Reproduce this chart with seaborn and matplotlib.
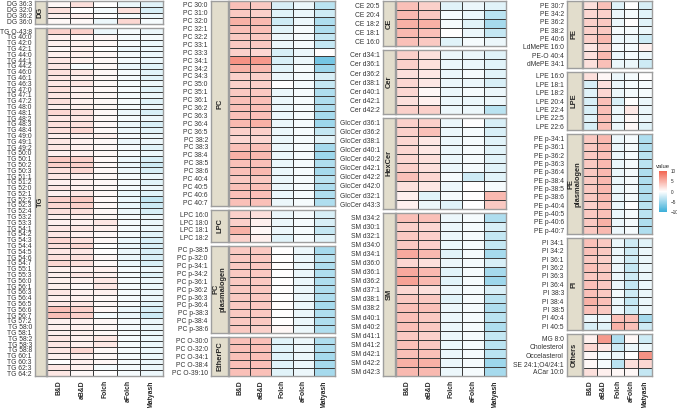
import numpy as np
import pandas as pd
import matplotlib
matplotlib.use("Agg")
import matplotlib.pyplot as plt
from matplotlib.colors import LinearSegmentedColormap
import seaborn as sns

# ─────────────────────────────────────────────
# DATA  (log2-ish fold change per extraction method)
# ─────────────────────────────────────────────

METHODS = ["B&D", "aB&D", "Folch", "aFolch", "Matyash"]

DG_LABELS = ["DG 36:3", "DG 32:0", "DG 36:2", "DG 36:0"]
DG_VALUES = [
    [0.5, 2, 0, -1, -1.5],
    [2, 0, -0.5, 2, -2],
    [1, 1, 0, -0.5, -1],
    [0.5, 0.5, -1, 2.5, -0.5],
]

TG_LABELS = [
    "TG O-43:8", "TG 40:0", "TG 42:0", "TG 42:1", "TG 44:0", "TG 44:1", "TG 44:2",
    "TG 46:0", "TG 46:1", "TG 46:3", "TG 47:0", "TG 47:1", "TG 47:2", "TG 48:0",
    "TG 48:1", "TG 48:2", "TG 48:3", "TG 48:4", "TG 49:0", "TG 49:1", "TG 49:2",
    "TG 50:0", "TG 50:1", "TG 50:2", "TG 50:3", "TG 51:1", "TG 51:2", "TG 52:0",
    "TG 52:1", "TG 52:2", "TG 52:3", "TG 52:4", "TG 53:2", "TG 53:3", "TG 54:1",
    "TG 54:2", "TG 54:3", "TG 54:4", "TG 54:5", "TG 54:6", "TG 54:7", "TG 55:1",
    "TG 55:3", "TG 56:0", "TG 56:1", "TG 56:3", "TG 56:4", "TG 56:5", "TG 56:6",
    "TG 56:7", "TG 57:2", "TG 58:0", "TG 58:1", "TG 58:2", "TG 58:3", "TG 58:8",
    "TG 60:1", "TG 60:3", "TG 62:3", "TG 64:2",
]
TG_VALUES = [
    [3, 3, -1, -0.5, -1], [1, 0.5, 0.5, -0.5, -0.5], [1, 1, 0.5, -0.5, -1],
    [0.5, 1, 0, -1, -1], [1, 1, 0.5, -0.5, -1], [1.5, 1, 0.5, -0.5, -1],
    [1.5, -0.5, 0.5, -1, -1.5], [2, 1.5, 0.5, -0.5, -1.5], [1.5, 1, 0.5, -0.5, -1.5],
    [1.5, 1.5, 0.5, -0.5, -1], [2, 1, 0.5, -0.5, -1.5], [1.5, 1, 0.5, -0.5, -1],
    [2, 1, 0.5, -0.5, -1.5], [1, 1, 0.5, -0.5, -1], [2.5, 2, 0.5, -1, -2],
    [1.5, 1.5, 0.5, -0.5, -1], [2, 2, 0.5, -1, -2], [2, 2.5, 0.5, -1, -1.5],
    [1, 1, 1, -0.5, -1], [1.5, 1, 0.5, -1, -1], [1.5, 1, 0.5, -0.5, -1.5],
    [1, 1, 0.5, -0.5, -1], [3.5, 3, 0.5, -1, -2], [3, 3, 0.5, -1, -2.5],
    [2, 2.5, 0.5, -1, -2], [1.5, 1, 0.5, -0.5, -1], [1, 1, 0.5, -0.5, -1.5],
    [1.5, 1, 0.5, -0.5, -1], [1, 1.5, 0.5, -1, -1.5], [3, 3.5, 0.5, -1, -3],
    [2.5, 3, 0.5, -1, -2.5], [2, 2, 0.5, -1, -2], [1, 1, 0.5, -0.5, -1],
    [1, 1, 1.5, -0.5, -1], [1.5, 1.5, 1, -0.5, -1], [1.5, 1, 0.5, -0.5, -1.5],
    [2.5, 2, 0.5, -1, -2], [2, 2.5, 0, -1, -2], [1.5, 1.5, 0, -1, -2],
    [2, 2, 0.5, -1, -2], [2.5, 2, 0.5, -1, -2], [1, 1, 1, -0.5, -1],
    [1, 1.5, 1, -0.5, -1.5], [1, 1, 1.5, -0.5, -1], [1, 0.5, 1.5, -0.5, -1],
    [1.5, 1, 1, -0.5, -1], [1, 1, 0.5, -0.5, -1], [1.5, 1.5, 0.5, -0.5, -1.5],
    [4, 3, 0.5, -1, -2], [4, 3, -0.5, -1, -2.5], [1, 1, 0.5, -0.5, -1],
    [1, 1, 0.5, -0.5, -1], [1, 1, 0.5, -0.5, -1], [1.5, 1, 1.5, -0.5, -1],
    [1.5, 1, 1.5, -0.5, -1], [1.5, 2.5, 0.5, -0.5, -1], [1, 1, 0.5, -0.5, -1],
    [0, 1, 0.5, -0.5, -1], [1.5, 1, -0.5, -0.5, -1], [1.5, 0.5, 0, -0.5, -1],
]

PC_LABELS = [
    "PC 30:0", "PC 31:0", "PC 32:0", "PC 32:1", "PC 32:2", "PC 33:1", "PC 33:3",
    "PC 34:1", "PC 34:2", "PC 34:3", "PC 35:0", "PC 35:1", "PC 36:1", "PC 36:2",
    "PC 36:3", "PC 36:4", "PC 36:5", "PC 38:2", "PC 38:3", "PC 38:4", "PC 38:5",
    "PC 38:6", "PC 40:4", "PC 40:5", "PC 40:6", "PC 40:7",
]
PC_VALUES = [
    [4, 3.5, -2, -1, -3.5], [3.5, 3, -1.5, -1, -2.5], [5, 4.5, -2.5, -1, -4],
    [4, 4, -1.5, -0.5, -4], [3.5, 3.5, -1, -0.5, -3], [3.5, 3.5, -1, -0.5, -3],
    [3, 2.5, -2, -1, 0], [7, 6.5, -2, -1, -7], [5, 4.5, -1.5, -0.5, -5],
    [3, 3, -1, -0.5, -2], [3, 3, 0, -0.5, -3], [3.5, 3.5, -1, -0.5, -4],
    [4, 4, -1, -0.5, -4], [4, 4, -1, -0.5, -4], [4, 4, -1, -0.5, -4.5],
    [4.5, 5, -1, -0.5, -5], [3, 3, -1, -0.5, -3], [2.5, 2.5, -1, -0.5, -1.5],
    [4, 4, -1, -0.5, -4.5], [5, 4.5, -1, -0.5, -5], [4, 4, -1, -0.5, -4],
    [4, 4.5, -1, -0.5, -4.5], [3.5, 3.5, -1, -0.5, -3.5], [4, 4, -1, -0.5, -4],
    [4, 4, -1, -0.5, -4], [4, 4, -1, -0.5, -4],
]

LPC_LABELS = ["LPC 16:0", "LPC 18:0", "LPC 18:1", "LPC 18:2"]
LPC_VALUES = [
    [3, 2, -1, -0.5, -2], [3, 1, -1, -0.5, -2],
    [5, 0.5, -1, -0.5, -3], [3, 1, -1.5, -0.5, -1.5],
]

PCP_LABELS = [
    "PC p-38:5", "PC p-32:0", "PC p-34:1", "PC p-34:2", "PC p-36:1", "PC p-36:2",
    "PC p-36:3", "PC p-36:4", "PC p-38:3", "PC p-38:4", "PC p-38:6",
]
PCP_VALUES = [
    [3.5, 3.5, 0, -1, -4.5], [3.5, 3.5, 0, -1, -3.5], [3.5, 3.5, 0, -1, -4],
    [3.5, 3.5, 0, -1, -4], [3.5, 3.5, 0, -1, -4], [3.5, 3.5, 0, -1, -4],
    [3.5, 3.5, 0, -1, -4], [3.5, 3.5, 0, -1, -4.5], [3.5, 3.5, 0, -1, -4],
    [3.5, 3.5, 0, -1, -4], [3.5, 3, 0.5, -1, -4],
]

EPC_LABELS = ["PC O-30:0", "PC O-32:0", "PC O-34:1", "PC O-38:4", "PC O-39:10"]
EPC_VALUES = [
    [4, 4, -1.5, -1, -4], [4, 4, -1.5, -1, -4], [4, 4, -1.5, -1, -4.5],
    [4, 4, -1.5, -1, -4.5], [4, 4, -1.5, -1, -4.5],
]

CE_LABELS = ["CE 20:5", "CE 20:4", "CE 18:2", "CE 18:1", "CE 16:0"]
CE_VALUES = [
    [4, 3, -1.5, -1, -1.5], [4.5, 3.5, -0.5, -1, -3.5], [5, 5, -0.5, -1.5, -4.5],
    [4.5, 4, 0, -1, -3], [4, 3.5, -1.5, -0.5, -1],
]

CER_LABELS = ["Cer d34:1", "Cer d36:1", "Cer d36:2", "Cer d38:1",
              "Cer d40:1", "Cer d42:1", "Cer d42:2"]
CER_VALUES = [
    [3, 2, -1, -1, -1.5], [3, 2, -1, -1, -1.5], [2, 1.5, -1, -0.5, -1.5],
    [2.5, 1.5, -1, -1, -2], [2.5, 0.5, -1, -0.5, -1], [2, 1, -1, -1, -1],
    [3, 3, -1, -1, -3.5],
]

HEX_LABELS = [
    "GlcCer d36:1", "GlcCer d36:2", "GlcCer d38:1", "GlcCer d40:1", "GlcCer d40:2",
    "GlcCer d42:1", "GlcCer d42:2", "GlcCer d42:0", "GlcCer d32:1", "GlcCer d43:3",
]
HEX_VALUES = [
    [3, 3, -1, 0, -2], [3, 4, -1, -0.5, -2], [2.5, 1.5, -1, -0.5, -1.5],
    [2.5, 1.5, -1, -0.5, -1.5], [2.5, 2, -1, -0.5, -1.5], [3, 2, -1, -0.5, -1.5],
    [4, 2.5, -0.5, -2.5, -1.5], [2, 1.5, -1, 0, -0.5], [1, -1.5, -0.5, 0, 4.5],
    [1, -1, -1.5, 0, 3.5],
]

SM_LABELS = [
    "SM d34:2", "SM d30:1", "SM d32:1", "SM d34:0", "SM d34:1", "SM d36:0",
    "SM d36:1", "SM d36:2", "SM d37:1", "SM d38:1", "SM d38:2", "SM d40:1",
    "SM d40:2", "SM d41:1", "SM d41:2", "SM d42:1", "SM d42:2", "SM d42:3",
]
SM_VALUES = [
    [4, 4, -1, -0.5, -4], [3, 2.5, -1, -0.5, -2], [3.5, 3, -1, -0.5, -3],
    [3.5, 3, -1, -0.5, -3], [5.5, 4.5, -1.5, -0.5, -4.5], [2.5, 2, -1, -0.5, -2],
    [5.5, 4.5, -1.5, -0.5, -4.5], [6, 4.5, -1.5, -0.5, -5], [2.5, 2, -1, -0.5, -2],
    [3.5, 3.5, -1.5, -0.5, -3.5], [4, 4, -1, -0.5, -4], [4, 3.5, -1, -0.5, -3.5],
    [4, 3.5, -1, -0.5, -4], [3.5, 3, -1, -0.5, -3], [4, 3.5, -1, -0.5, -3.5],
    [4, 4, -1, -0.5, -3.5], [5, 5, -1, -0.5, -5], [4.5, 4.5, -1, -0.5, -4.5],
]

PE_LABELS = ["PE 30:7", "PE 34:2", "PE 36:2", "PE 38:2", "PE 40:6",
             "LdMePE 16:0", "PE-O 40:4", "dMePE 34:1"]
PE_VALUES = [
    [2, 4, -1.5, 0, -2], [2.5, 3, -1, -0.5, -1.5], [3, 3.5, -1, 0, -1.5],
    [3, 3.5, -0.5, -0.5, -1], [3, 4.5, -1, -1, -2.5], [1.5, 3, -0.5, -0.5, 1],
    [2, 4.5, -1, -0.5, -1], [2, 4, -1, -1, -2.5],
]

LPE_LABELS = ["LPE 16:0", "LPE 18:1", "LPE 18:2", "LPE 20:4",
              "LPE 22:4", "LPE 22:5", "LPE 22:6"]
LPE_VALUES = [
    [2, 0.5, -1, -0.5, 0], [-2, 2, -1, -0.5, -0.5], [-1.5, 2.5, -1, -0.5, -0.5],
    [-2, 4, -2, 0, -1], [-2, 4, -1, 1.5, -1], [-1.5, 4, -1, 0.5, -1],
    [-2, 4, -1, 0.5, -1.5],
]

PEP_LABELS = [
    "PE p-34:1", "PE p-36:1", "PE p-36:2", "PE p-36:3", "PE p-36:4", "PE p-38:4",
    "PE p-38:5", "PE p-38:6", "PE p-40:4", "PE p-40:5", "PE p-40:6", "PE p-40:7",
]
PEP_VALUES = [
    [3.5, 4.5, -1, -0.5, -4], [3.5, 4.5, -1, -0.5, -4], [3.5, 4, -1, -0.5, -3.5],
    [3.5, 4.5, -1, -0.5, -3.5], [3.5, 4.5, -1, -0.5, -4], [3.5, 4.5, -1, -0.5, -4],
    [3.5, 4.5, -1, -0.5, -4], [3.5, 4.5, -1, -0.5, -4], [3, 4, -1, 0, -3.5],
    [3.5, 4, -1, -0.5, -3.5], [3.5, 5, -1, -0.5, -4], [3.5, 4.5, -1, -0.5, -4],
]

PI_LABELS = ["PI 34:1", "PI 34:2", "PI 36:1", "PI 36:2", "PI 36:3", "PI 36:4",
             "PI 38:3", "PI 38:4", "PI 38:5", "PI 40:4", "PI 40:5"]
PI_VALUES = [
    [4, 3.5, -1, -2.5, -1.5], [4, 3.5, -1, -2.5, -1], [3.5, 3, -1, -2.5, -1],
    [4, 3.5, -1, -3, -1], [3.5, 3.5, -1, -2.5, -1], [4, 3.5, -1, -3, -1],
    [4, 3.5, -0.5, -2.5, -1], [5, 4, -1, -3, -1], [4, 3.5, -1, -2.5, -1],
    [-1, -1, 4, 4, -4.5], [-2, -1.5, 5, 4, -2.5],
]

OTH_LABELS = ["MG 8:0", "Cholesterol", "Occelasterol", "SE 24:1;O4/24:1", "ACar 10:0"]
OTH_VALUES = [
    [1, 6.5, -4, 0.5, -2.5], [2.5, 1.5, -2.5, -1, -1], [0.5, -0.5, -1, 0, 7],
    [0.5, -0.5, -3.5, 2, 2.5], [2, 1, 0.5, 0.5, -3],
]

# ─────────────────────────────────────────────
# STYLE / LAYOUT
# ─────────────────────────────────────────────

W, H = 677, 408
STRIP_FILL = "#E2DDCC"
BORDER = "#9E9E9E"
CMAP = LinearSegmentedColormap.from_list("rwb", ["#3AAED8", "#FFFFFF", "#F26450"])

sns.set_style("white")
plt.rcParams["font.family"] = ["Liberation Sans", "DejaVu Sans"]


def px_box(x0, y0, x1, y1):
    return [x0 / W, 1 - y1 / H, (x1 - x0) / W, (y1 - y0) / H]


# (strip_x0, panel_x0, panel_x1, panels)
COLUMNS = [
    (35, 47, 163, [("DG", DG_LABELS, DG_VALUES), ("TG", TG_LABELS, TG_VALUES)]),
    (211, 229, 335, [("PC", PC_LABELS, PC_VALUES), ("LPC", LPC_LABELS, LPC_VALUES),
                     ("PC\nplasmalogen", PCP_LABELS, PCP_VALUES),
                     ("EtherPC", EPC_LABELS, EPC_VALUES)]),
    (383, 396, 506, [("CE", CE_LABELS, CE_VALUES), ("Cer", CER_LABELS, CER_VALUES),
                     ("HexCer", HEX_LABELS, HEX_VALUES), ("SM", SM_LABELS, SM_VALUES)]),
    (567, 583, 652, [("PE", PE_LABELS, PE_VALUES), ("LPE", LPE_LABELS, LPE_VALUES),
                     ("PE\nplasmalogen", PEP_LABELS, PEP_VALUES),
                     ("PI", PI_LABELS, PI_VALUES), ("Others", OTH_LABELS, OTH_VALUES)]),
]
TOP, BOTTOM, GAP = 1, 376, 4

fig = plt.figure(figsize=(W / 100, H / 100), dpi=100)

for strip_x0, px0, px1, panels in COLUMNS:
    n_total = sum(len(p[1]) for p in panels)
    row_h = (BOTTOM - TOP - GAP * (len(panels) - 1)) / n_total
    y = TOP
    for k, (name, labels, values) in enumerate(panels):
        n = len(labels)
        y1 = y + n * row_h
        df = pd.DataFrame(values, index=labels, columns=METHODS)
        last = k == len(panels) - 1

        ax = fig.add_axes(px_box(px0, y, px1, y1))
        sns.heatmap(df, ax=ax, cmap=CMAP, vmin=-10, vmax=10, cbar=False,
                    linewidths=0.45, linecolor="#3C3C3C",
                    xticklabels=METHODS if last else False, yticklabels=False)
        for sp in ax.spines.values():
            sp.set_visible(True)
            sp.set_color(BORDER)
            sp.set_linewidth(1.0)
        ax.set_xlabel("")
        ax.set_ylabel("")
        if last:
            ax.tick_params(axis="x", length=2, width=0.5, color="#555555", pad=1)
            for t in ax.get_xticklabels():
                t.set_rotation(90)
                t.set_fontsize(4.9)
                t.set_fontweight("bold")
        else:
            ax.set_xticks([])

        # facet strip on the left, with the y labels outside it
        sax = fig.add_axes(px_box(strip_x0, y, px0 - 1, y1))
        sax.set_facecolor(STRIP_FILL)
        sax.set_xlim(0, 1)
        sax.set_ylim(n, 0)
        sax.set_xticks([])
        sax.set_yticks(np.arange(n) + 0.5)
        sax.set_yticklabels(labels, fontsize=4.9, color="#333333")
        sax.tick_params(axis="y", length=1.5, width=0.4, color="#555555", pad=0.8)
        for sp in sax.spines.values():
            sp.set_color(BORDER)
            sp.set_linewidth(1.0)
        sax.text(0.5, n / 2, name, rotation=90, ha="center", va="center",
                 fontsize=5.4, fontweight="bold", linespacing=1.0)
        y = y1 + GAP

# colour legend
cax = fig.add_axes(px_box(659, 171, 667, 212))
sm = plt.cm.ScalarMappable(cmap=CMAP, norm=plt.Normalize(-10, 10))
cb = fig.colorbar(sm, cax=cax, ticks=[-10, -5, 0, 5, 10])
cb.outline.set_visible(False)
cb.ax.tick_params(labelsize=3.3, length=1.5, width=0.4, color="white", pad=1)
fig.text(656 / W, 1 - 166 / H, "value", fontsize=4.2, ha="left", va="center")

fig.savefig("out.png", dpi=100)
